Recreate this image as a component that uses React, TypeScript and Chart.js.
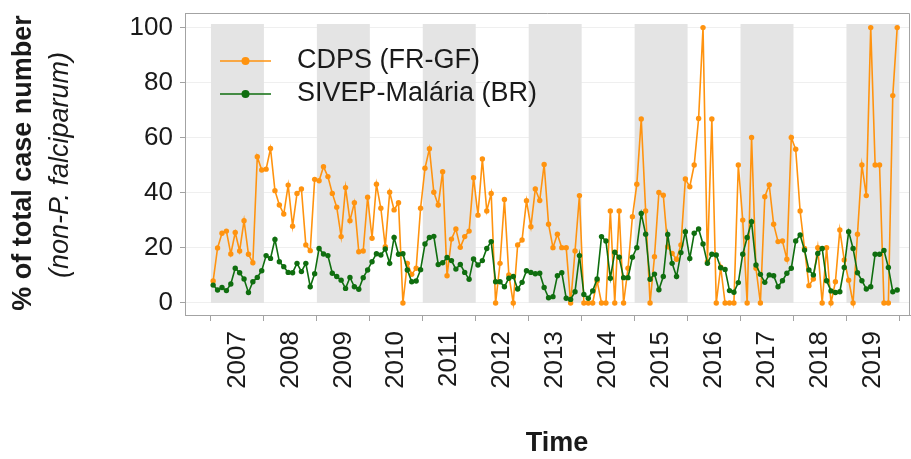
import React, { useEffect, useRef } from "react";
import { Chart, registerables } from "chart.js";

Chart.register(...registerables);

// ---------- data ----------
const years = [2007, 2008, 2009, 2010, 2011, 2012, 2013, 2014, 2015, 2016, 2017, 2018, 2019];
const shadedYears = [2007, 2009, 2011, 2013, 2015, 2017, 2019];
const yTicks = [0, 20, 40, 60, 80, 100];
const seriesNames = ["CDPS (FR-GF)", "SIVEP-Malária (BR)"];
const yTitle = "% of total case number";
const ySubTitle = "(non-P. falciparum)";
const xTitle = "Time";

// monthly values, Jan..Dec for each year
const cdps = [
  8.0, 20, 25.3, 26.1, 17.8, 25.6, 18.9, 29.9, 17.7, 14.6, 53.1, 48.3, // 2007
  48.6, 56.1, 40.8, 35.6, 32.3, 42.8, 27.9, 39.8, 41.4, 21.1, 19.0, 44.9, // 2008
  44.4, 49.5, 45.9, 39.8, 34.8, 24.1, 41.9, 29.9, 36.4, 18.6, 18.9, 38.4, // 2009
  23.5, 43.1, 34.4, 20.4, 40.2, 33.8, 36.4, 0, 14.4, 10.4, 12.6, 34.4, // 2010
  48.9, 56.0, 40.2, 35.6, 47.7, 9.9, 23.2, 26.9, 20.2, 24.1, 26.1, 45.5, // 2011
  31.9, 52.3, 33.4, 39.8, 0, 14.4, 37.6, 10.2, 0, 21.1, 22.9, 37.1, // 2012
  27.7, 41.4, 37.2, 50.3, 28.6, 20.1, 25.0, 20.1, 20.1, 0, 18.9, 39.0, // 2013
  0, 0, 0, 8.0, 0, 0, 33.4, 0, 33.4, 0, 12.6, 31.3, // 2014
  43.1, 66.8, 33.4, 0, 16.8, 40.1, 39.1, 20.4, 18.0, 15.9, 21.1, 45.0, // 2015
  42.2, 50.1, 67.0, 100, 15.0, 66.8, 0, 13.0, 0, 0, 0, 50.1, // 2016
  30.1, 0, 60.1, 12.6, 0, 38.6, 42.9, 28.6, 22.3, 22.5, 15.9, 60.1, // 2017
  55.8, 33.4, 19.8, 6.3, 8.7, 20.1, 0, 20.1, 0, 7.7, 26.5, 15.6, // 2018
  8.3, 0, 25.0, 50.1, 39.0, 100, 50.1, 50.1, 0, 0, 75.3, 100, // 2019
];

const sivep = [
  6.5, 4.7, 5.6, 4.5, 6.9, 12.6, 11.0, 8.7, 3.8, 7.7, 9.3, 11.7, // 2007
  17.2, 16.2, 23.1, 15.0, 13.2, 11.1, 11.0, 14.4, 11.4, 14.4, 5.9, 10.6, // 2008
  19.8, 17.8, 17.2, 10.8, 9.6, 8.3, 5.3, 9.3, 5.9, 5.0, 9.2, 12.0, // 2009
  15.0, 17.9, 17.4, 19.6, 14.4, 23.8, 17.7, 17.9, 12.0, 7.7, 8.0, 12.1, // 2010
  21.4, 23.8, 24.2, 14.0, 14.6, 16.5, 15.4, 12.3, 14.0, 11.1, 8.6, 16.0, // 2011
  13.8, 15.4, 19.8, 22.3, 7.7, 7.7, 5.9, 9.0, 9.6, 5.1, 7.5, 11.7, // 2012
  11.1, 10.6, 10.8, 5.6, 1.9, 2.3, 9.9, 11.0, 1.7, 1.3, 4.1, 17.2, // 2013
  3.1, 1.7, 4.4, 8.7, 24.1, 22.5, 9.0, 18.4, 16.6, 9.2, 9.2, 16.6, // 2014
  20.1, 32.5, 25.0, 8.6, 10.5, 4.8, 9.6, 24.9, 14.4, 9.6, 18.3, 25.9, // 2015
  16.2, 25.3, 26.9, 21.4, 14.4, 17.7, 17.4, 12.8, 12.2, 4.5, 3.9, 7.4, // 2016
  17.7, 23.8, 29.5, 13.8, 10.4, 7.5, 10.2, 9.9, 5.9, 8.1, 10.8, 12.6, // 2017
  22.5, 24.7, 19.2, 12.0, 10.2, 18.0, 19.8, 8.1, 4.4, 3.8, 4.1, 12.9, // 2018
  25.9, 19.8, 11.0, 8.1, 5.1, 5.9, 17.7, 17.7, 19.1, 12.9, 4.1, 4.7, // 2019
];

// ---------- styles ----------
const FONT = "'Liberation Sans', Arial, Helvetica, sans-serif";
const ORANGE = "#ff930f";
const GREEN = "#0f6e0f";
const TEXT = "#1a1a1a";
const FRAME = "#a3a3a3";

function toPoints(values: number[]) {
  return values.map((v, i) => ({ x: years[0] + (i + 0.5) / 12, y: v }));
}

const decorPlugin = {
  id: "decor",
  beforeDatasetsDraw(chart: any) {
    const { ctx, scales } = chart;
    const xs = scales.x;
    const ys = scales.y;
    ctx.save();
    ctx.fillStyle = "#e4e4e4";
    const top = ys.getPixelForValue(101.3);
    const bottom = ys.getPixelForValue(0);
    shadedYears.forEach((yr) => {
      const x1 = xs.getPixelForValue(yr);
      const x2 = xs.getPixelForValue(yr + 1);
      ctx.fillRect(x1, top, x2 - x1, bottom - top);
    });
    ctx.restore();
  },
  afterDraw(chart: any) {
    const { ctx, chartArea } = chart;
    ctx.save();
    // frame top & right
    ctx.strokeStyle = FRAME;
    ctx.lineWidth = 1;
    ctx.beginPath();
    ctx.moveTo(chartArea.left, chartArea.top + 0.5);
    ctx.lineTo(chartArea.right - 0.5, chartArea.top + 0.5);
    ctx.lineTo(chartArea.right - 0.5, chartArea.bottom);
    ctx.stroke();

    // legend
    const colors = [ORANGE, GREEN];
    const rows = [61, 94];
    seriesNames.forEach((name, k) => {
      const y = rows[k];
      ctx.strokeStyle = colors[k];
      ctx.lineWidth = 1.6;
      ctx.beginPath();
      ctx.moveTo(220, y);
      ctx.lineTo(271, y);
      ctx.stroke();
      ctx.fillStyle = colors[k];
      ctx.beginPath();
      ctx.arc(245.5, y, 4, 0, Math.PI * 2);
      ctx.fill();
      ctx.fillStyle = TEXT;
      ctx.font = `27px ${FONT}`;
      ctx.textAlign = "left";
      ctx.textBaseline = "middle";
      ctx.fillText(name, 297, y);
    });

    // y titles
    ctx.fillStyle = TEXT;
    ctx.textAlign = "center";
    ctx.textBaseline = "middle";
    ctx.save();
    ctx.translate(24, 163);
    ctx.rotate(-Math.PI / 2);
    ctx.font = `bold 27px ${FONT}`;
    ctx.fillText(yTitle, 0, 0);
    ctx.restore();
    ctx.save();
    ctx.translate(60, 165);
    ctx.rotate(-Math.PI / 2);
    ctx.font = `italic 27px ${FONT}`;
    ctx.fillText(ySubTitle, 0, 0);
    ctx.restore();

    // x title
    ctx.font = `bold 27px ${FONT}`;
    ctx.fillText(xTitle, 557, 444);
    ctx.restore();
  },
};

export default function App() {
  const ref = useRef<HTMLCanvasElement | null>(null);

  useEffect(() => {
    document.body.style.margin = "0";
    const canvas = ref.current;
    if (!canvas) return;
    const chart = new Chart(canvas, {
      type: "line",
      data: {
        datasets: [
          {
            label: seriesNames[0],
            data: toPoints(cdps),
            borderColor: ORANGE,
            backgroundColor: ORANGE,
            borderWidth: 1.6,
            pointRadius: 2.7,
            pointBorderWidth: 0,
            pointBackgroundColor: ORANGE,
            tension: 0,
            order: 1,
          },
          {
            label: seriesNames[1],
            data: toPoints(sivep),
            borderColor: GREEN,
            backgroundColor: GREEN,
            borderWidth: 1.6,
            pointRadius: 2.7,
            pointBorderWidth: 0,
            pointBackgroundColor: GREEN,
            tension: 0,
            order: 0,
          },
        ],
      },
      options: {
        responsive: false,
        animation: false,
        devicePixelRatio: 1,
        layout: { autoPadding: false, padding: { top: 13, right: 1, left: 0, bottom: 0 } },
        plugins: {
          legend: { display: false },
          tooltip: { enabled: false },
        },
        scales: {
          x: {
            type: "linear",
            min: 2006.51,
            max: 2020.2,
            afterBuildTicks: (s: any) => {
              s.ticks = years.map((y) => ({ value: y + 0.5 }));
            },
            afterFit: (s: any) => {
              s.height = 144;
              s.paddingLeft = 0;
              s.paddingRight = 0;
            },
            ticks: {
              autoSkip: false,
              minRotation: 90,
              maxRotation: 90,
              padding: 10,
              color: TEXT,
              font: { size: 26, family: FONT },
              callback: (v: any) => String(Math.floor(Number(v))),
            },
            grid: {
              offset: true,
              drawOnChartArea: false,
              drawTicks: true,
              tickLength: 6,
              tickColor: FRAME,
              tickWidth: 1,
            },
            border: { display: true, color: FRAME, width: 1 },
          },
          y: {
            type: "linear",
            min: -4.36,
            max: 105.3,
            afterBuildTicks: (s: any) => {
              s.ticks = yTicks.map((v) => ({ value: v }));
            },
            afterFit: (s: any) => {
              s.width = 185;
              s.paddingTop = 0;
              s.paddingBottom = 0;
            },
            ticks: {
              padding: 7,
              color: TEXT,
              font: { size: 26, family: FONT },
              callback: (v: any) => String(v),
            },
            grid: {
              color: "#efefef",
              lineWidth: 1,
              tickLength: 5,
              tickColor: FRAME,
            },
            border: { display: true, color: FRAME, width: 1 },
          },
        },
      },
      plugins: [decorPlugin],
    } as any);
    return () => chart.destroy();
  }, []);

  return (
    <div style={{ width: 911, height: 459, background: "#fff" }}>
      <canvas ref={ref} width={911} height={459} style={{ display: "block" }} />
    </div>
  );
}
